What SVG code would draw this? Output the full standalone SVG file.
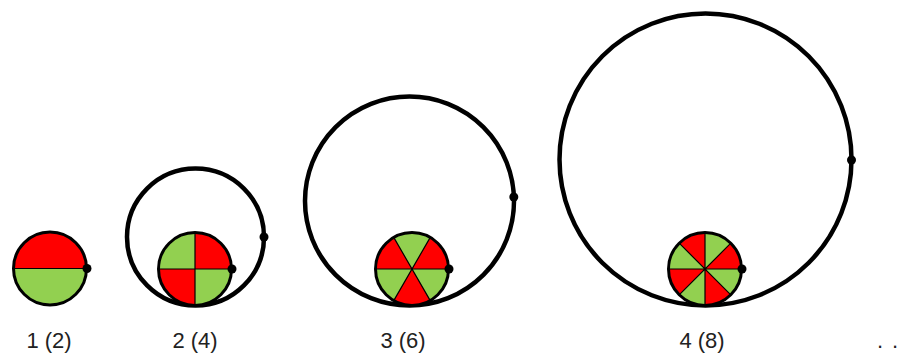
<svg xmlns="http://www.w3.org/2000/svg" width="904" height="354" viewBox="0 0 904 354">
<style>
.bg{fill:#fff}
.big{fill:none;stroke:#000;stroke-width:4.5}
.wheel{fill:#92D050}
.red{fill:#FF0000}
.div{fill:none;stroke:#000;stroke-width:1.2}
.rim{fill:none;stroke:#000;stroke-width:3}
.dot{fill:#000}
.lbl{font-family:"Liberation Sans",Arial,sans-serif;font-size:22px;fill:#222;text-anchor:middle}
</style>
<rect class="bg" x="0" y="0" width="904" height="354"/>
<g id="fig1">
<circle class="wheel" cx="50" cy="268.5" r="36.5"/>
<path class="red" d="M13.5,268.5 A36.5,36.5 0 0 1 86.5,268.5 Z"/>
<path class="div" d="M13.5,268.5 H86.5"/>
<circle class="rim" cx="50" cy="268.5" r="36.5"/>
<circle class="dot" cx="87" cy="268.5" r="4.5"/>
<text class="lbl" x="49" y="348">1 (2)</text>
</g>
<g id="fig2">
<circle class="big" cx="195.5" cy="237" r="68.5"/>
<circle class="dot" cx="264" cy="237" r="4.5"/>
<circle class="wheel" cx="195" cy="269" r="36.5"/>
<path class="red" d="M195,269 L231.5,269 A36.5,36.5 0 0 0 195,232.5 Z M195,269 L158.5,269 A36.5,36.5 0 0 0 195,305.5 Z"/>
<path class="div" d="M158.5,269 H231.5 M195,232.5 V305.5"/>
<circle class="rim" cx="195" cy="269" r="36.5"/>
<circle class="dot" cx="232" cy="269" r="4.5"/>
<text class="lbl" x="195" y="348">2 (4)</text>
</g>
<g id="fig3">
<circle class="big" cx="409.5" cy="201" r="104.5"/>
<circle class="dot" cx="513.8" cy="197" r="4.5"/>
<circle class="wheel" cx="412" cy="269" r="36.5"/>
<path class="red" d="M412,269 L448.5,269 A36.5,36.5 0 0 0 430.25,237.39 Z M412,269 L393.75,237.39 A36.5,36.5 0 0 0 375.5,269 Z M412,269 L393.75,300.61 A36.5,36.5 0 0 0 430.25,300.61 Z"/>
<path class="div" d="M375.5,269 H448.5 M393.75,237.39 L430.25,300.61 M430.25,237.39 L393.75,300.61"/>
<circle class="rim" cx="412" cy="269" r="36.5"/>
<circle class="dot" cx="449" cy="269" r="4.5"/>
<text class="lbl" x="403" y="348">3 (6)</text>
</g>
<g id="fig4">
<circle class="big" cx="705.5" cy="159.5" r="146"/>
<circle class="dot" cx="851.5" cy="160" r="4.5"/>
<circle class="wheel" cx="705" cy="269" r="36.5"/>
<path class="red" d="M705,269 L741.5,269 A36.5,36.5 0 0 0 730.81,243.19 Z M705,269 L705,232.5 A36.5,36.5 0 0 0 679.19,243.19 Z M705,269 L668.5,269 A36.5,36.5 0 0 0 679.19,294.81 Z M705,269 L705,305.5 A36.5,36.5 0 0 0 730.81,294.81 Z"/>
<path class="div" d="M668.5,269 H741.5 M705,232.5 V305.5 M679.19,243.19 L730.81,294.81 M730.81,243.19 L679.19,294.81"/>
<circle class="rim" cx="705" cy="269" r="36.5"/>
<circle class="dot" cx="742" cy="269" r="4.5"/>
<text class="lbl" x="702" y="348">4 (8)</text>
</g>
<g id="connectors"></g>
<text class="lbl" style="text-anchor:start"><tspan x="877" y="348">.</tspan><tspan x="892" y="348">.</tspan></text>
</svg>
